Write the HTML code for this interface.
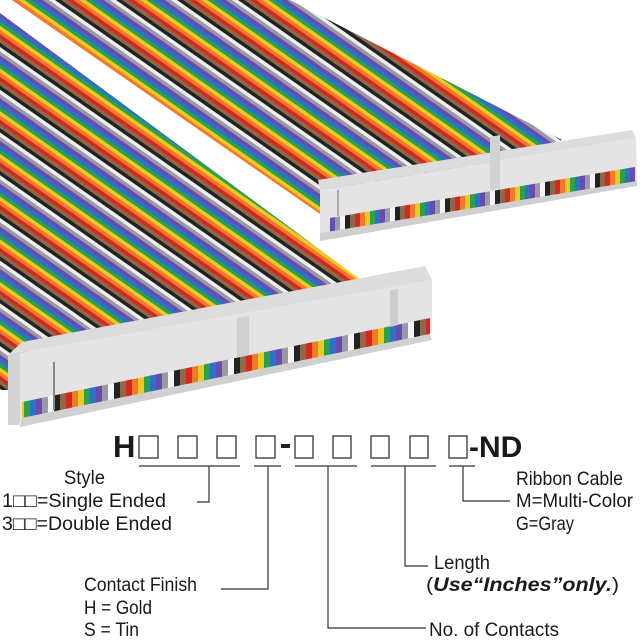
<!DOCTYPE html>
<html><head><meta charset="utf-8"><style>
html,body{margin:0;padding:0;background:#fff}
svg{display:block}
text{font-family:"Liberation Sans Narrow","Liberation Sans",sans-serif;fill:#1a1a1a}
</style></head><body>
<svg width="640" height="640" viewBox="0 0 640 640" xmlns="http://www.w3.org/2000/svg">
<defs>
<pattern id="w" width="35" height="400" patternUnits="userSpaceOnUse" patternTransform="rotate(-55)">
<rect x="0" width="3.6" height="400" fill="#8a6a4a"/>
<rect x="3.5" width="3.6" height="400" fill="#d8261e"/>
<rect x="7" width="3.6" height="400" fill="#ee7a2e"/>
<rect x="10.5" width="3.6" height="400" fill="#f0c820"/>
<rect x="14" width="3.6" height="400" fill="#2ea04a"/>
<rect x="17.5" width="3.6" height="400" fill="#2a74c8"/>
<rect x="21" width="3.6" height="400" fill="#6a4ab0"/>
<rect x="24.5" width="3.6" height="400" fill="#9a9aa4"/>
<rect x="28" width="3.6" height="400" fill="#eeeeee"/>
<rect x="31.5" width="3.5" height="400" fill="#222"/>
</pattern>
<pattern id="d" x="0" y="0" width="60" height="640" patternUnits="userSpaceOnUse">
<rect x="0" width="6.1" height="640" fill="#8a6a4a"/>
<rect x="6" width="6.1" height="640" fill="#d8261e"/>
<rect x="12" width="6.1" height="640" fill="#ee7a2e"/>
<rect x="18" width="6.1" height="640" fill="#f0c820"/>
<rect x="24" width="6.1" height="640" fill="#2ea04a"/>
<rect x="30" width="6.1" height="640" fill="#2a74c8"/>
<rect x="36" width="6.1" height="640" fill="#6a4ab0"/>
<rect x="42" width="6.1" height="640" fill="#9a9aa4"/>
<rect x="48" width="6.1" height="640" fill="#f4f4f4"/>
<rect x="54" width="6" height="640" fill="#222"/>
</pattern>
<pattern id="d2" x="0" y="0" width="50" height="640" patternUnits="userSpaceOnUse">
<rect x="0" width="5.1" height="640" fill="#8a6a4a"/>
<rect x="5" width="5.1" height="640" fill="#d8261e"/>
<rect x="10" width="5.1" height="640" fill="#ee7a2e"/>
<rect x="15" width="5.1" height="640" fill="#f0c820"/>
<rect x="20" width="5.1" height="640" fill="#2ea04a"/>
<rect x="25" width="5.1" height="640" fill="#2a74c8"/>
<rect x="30" width="5.1" height="640" fill="#6a4ab0"/>
<rect x="35" width="5.1" height="640" fill="#9a9aa4"/>
<rect x="40" width="5.1" height="640" fill="#f4f4f4"/>
<rect x="45" width="5" height="640" fill="#222"/>
</pattern>
</defs>

<!-- right cable -->
<polygon points="12,0 290,0 562,140 320,214" fill="url(#w)"/>
<!-- left cable -->
<polygon points="0,13 365,283 30,345 8,390 0,390" fill="url(#w)"/>

<!-- right connector -->
<polygon points="318,180 632,130 636,138 320,190" fill="#dcdcdc"/>
<polygon points="320,190 636,138 637,185 320,240" fill="#e4e4e4"/>
<polygon points="330,218 635,167 635,182 330,233" fill="url(#d2)"/>
<polygon points="320,233 637,181 637,186 320,241" fill="#cfcfcf"/>
<polygon points="490,137 500,135 500,188 490,190" fill="#d2d2d2"/>
<line x1="338" y1="190" x2="338" y2="216" stroke="#999" stroke-width="1.5"/>

<!-- left connector -->
<polygon points="22,342 425,266 432,280 8,355" fill="#dcdcdc"/>
<polygon points="8,355 432,280 432,333 8,425" fill="#e4e4e4"/>
<polygon points="22,402 430,318 430,334 22,418" fill="url(#d)"/>
<polygon points="22,418 430,334 432,340 20,427" fill="#d0d0d0"/>
<polygon points="237,318 249,316 249,355 237,357" fill="#d0d0d0"/>
<polygon points="390,290 398,289 398,325 390,327" fill="#cdcdcd"/>
<line x1="54" y1="362" x2="54" y2="410" stroke="#888" stroke-width="2"/>
<polygon points="8,355 20,352 20,425 8,425" fill="#d4d4d4"/>

<!-- part number -->
<text x="113" y="457" font-size="31" font-weight="bold" style="font-family:'Liberation Sans',sans-serif">H</text>
<g fill="none" stroke="#333" stroke-width="1.3">
<rect x="139" y="436" width="19" height="22"/>
<rect x="178" y="436" width="19" height="22"/>
<rect x="217" y="436" width="19" height="22"/>
<rect x="256" y="436" width="19" height="22"/>
<rect x="295" y="436" width="18" height="22"/>
<rect x="333" y="436" width="18" height="22"/>
<rect x="371" y="436" width="18" height="22"/>
<rect x="410" y="436" width="18" height="22"/>
<rect x="449" y="436" width="18" height="22"/>
</g>
<rect x="281" y="444" width="9" height="4" fill="#222"/>
<text x="469" y="457" font-size="30" font-weight="bold" style="font-family:'Liberation Sans',sans-serif">-ND</text>
<g stroke="#333" stroke-width="1.2" fill="none">
<line x1="139" y1="466" x2="240" y2="466"/>
<line x1="254" y1="466" x2="281" y2="466"/>
<line x1="295" y1="466" x2="357" y2="466"/>
<line x1="371" y1="466" x2="436" y2="466"/>
<line x1="449" y1="466" x2="475" y2="466"/>
<polyline points="209,466 209,502 197,502"/>
<polyline points="268,466 268,589 221,589"/>
<polyline points="328,466 328,628 426,628"/>
<polyline points="405,466 405,566 428,566"/>
<polyline points="463,466 463,501 510,501"/>
</g>
<g font-size="19">
<text x="64" y="484" textLength="41" lengthAdjust="spacingAndGlyphs">Style</text>
<text x="2" y="507" textLength="164" lengthAdjust="spacingAndGlyphs">1□□=Single Ended</text>
<text x="2" y="530" textLength="170" lengthAdjust="spacingAndGlyphs">3□□=Double Ended</text>
<text x="516" y="485" textLength="107" lengthAdjust="spacingAndGlyphs">Ribbon Cable</text>
<text x="516" y="507" textLength="117" lengthAdjust="spacingAndGlyphs">M=Multi-Color</text>
<text x="516" y="530" textLength="58" lengthAdjust="spacingAndGlyphs">G=Gray</text>
<text x="434" y="569" textLength="56" lengthAdjust="spacingAndGlyphs">Length</text>
<text x="426" y="591" textLength="193" lengthAdjust="spacingAndGlyphs">(<tspan font-weight="bold" font-style="italic">Use“Inches”only.</tspan>)</text>
<text x="84" y="591" textLength="113" lengthAdjust="spacingAndGlyphs">Contact Finish</text>
<text x="84" y="614" textLength="68" lengthAdjust="spacingAndGlyphs">H = Gold</text>
<text x="84" y="636" textLength="55" lengthAdjust="spacingAndGlyphs">S = Tin</text>
<text x="429" y="636" textLength="130" lengthAdjust="spacingAndGlyphs">No. of Contacts</text>
</g>
</svg>
</body></html>
